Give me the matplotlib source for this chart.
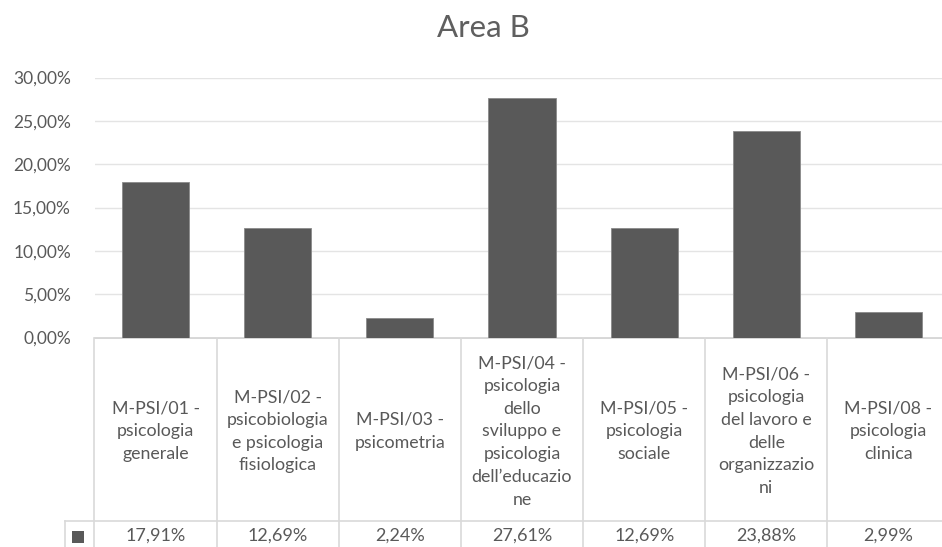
import matplotlib
matplotlib.use("Agg")
import matplotlib.pyplot as plt
from matplotlib.transforms import blended_transform_factory
from matplotlib.patches import Rectangle

plt.rcParams["font.family"] = ["Lato", "DejaVu Sans"]

title = "Area B"
categories = [
    "M-PSI/01 -\npsicologia\ngenerale",
    "M-PSI/02 -\npsicobiologia\ne psicologia\nfisiologica",
    "M-PSI/03 -\npsicometria",
    "M-PSI/04 -\npsicologia\ndello\nsviluppo e\npsicologia\ndell’educazio\nne",
    "M-PSI/05 -\npsicologia\nsociale",
    "M-PSI/06 -\npsicologia\ndel lavoro e\ndelle\norganizzazio\nni",
    "M-PSI/08 -\npsicologia\nclinica",
]
values = [17.91, 12.69, 2.24, 27.61, 12.69, 23.88, 2.99]
value_labels = ["17,91%", "12,69%", "2,24%", "27,61%", "12,69%", "23,88%", "2,99%"]
yticks = [0, 5, 10, 15, 20, 25, 30]
ytick_labels = ["0,00%", "5,00%", "10,00%", "15,00%", "20,00%", "25,00%", "30,00%"]

W, H = 942, 547
TEXT = "#595959"
BAR = "#595959"
GRID = "#e4e4e4"
BORDER = "#d9d9d9"

fig = plt.figure(figsize=(W / 100, H / 100), dpi=100)
fig.patch.set_facecolor("white")

# plot area in pixel units
left, right, top, bottom = 94.5, 949.5, 77.6, 337.6
ax = fig.add_axes([left / W, 1 - bottom / H, (right - left) / W, (bottom - top) / H])

x = list(range(len(values)))
ax.bar(x, values, width=0.55, color=BAR, edgecolor="#8a8a8a", linewidth=0.6, zorder=3)
ax.set_xlim(-0.5, len(values) - 0.5)
ax.set_ylim(0, 30)
ax.set_yticks(yticks)
ax.set_yticklabels(ytick_labels, fontsize=12.5, color=TEXT)
ax.tick_params(axis="y", length=0, pad=17)
ax.set_xticks([])
ax.yaxis.grid(True, color=GRID, linewidth=1.0, zorder=0)
for s in ax.spines.values():
    s.set_visible(False)
ax.set_facecolor("none")

# overlay in pixel coordinates for the data table
ov = fig.add_axes([0, 0, 1, 1], zorder=-1)
ov.set_xlim(0, W)
ov.set_ylim(H, 0)
ov.axis("off")
ov.patch.set_alpha(0)
bt = blended_transform_factory(ax.transData, ov.transData)

row_top, row_mid, row_bot = bottom, 521, H + 2
n = len(values)
ov.plot([left, right], [row_top, row_top], color="#cfcfcf", lw=1.2, clip_on=False)
ov.plot([65, right], [row_mid, row_mid], color=BORDER, lw=1.2, clip_on=False)
for i in range(n + 1):
    ov.plot([i - 0.5, i - 0.5], [row_top, row_bot], color=BORDER, lw=1.2,
            transform=bt, clip_on=False)
ov.plot([65, 65], [row_mid, row_bot], color=BORDER, lw=1.2, clip_on=False)

# legend key
ov.add_patch(Rectangle((71.7, 530.7), 12, 12, facecolor=BAR, edgecolor="none"))

for i, (cat, lab) in enumerate(zip(categories, value_labels)):
    ov.text(i, (row_top + row_mid) / 2 + 2, cat, transform=bt, ha="center", va="center",
            fontsize=12.8, color=TEXT, linespacing=1.52, clip_on=False)
    ov.text(i, 535.5, lab, transform=bt, ha="center", va="center",
            fontsize=13, color=TEXT, clip_on=False)

ov.text(483, 28, title, ha="center", va="center", fontsize=22.5, color="#5f5f5f")

fig.savefig("out.png", dpi=100, facecolor="white")
